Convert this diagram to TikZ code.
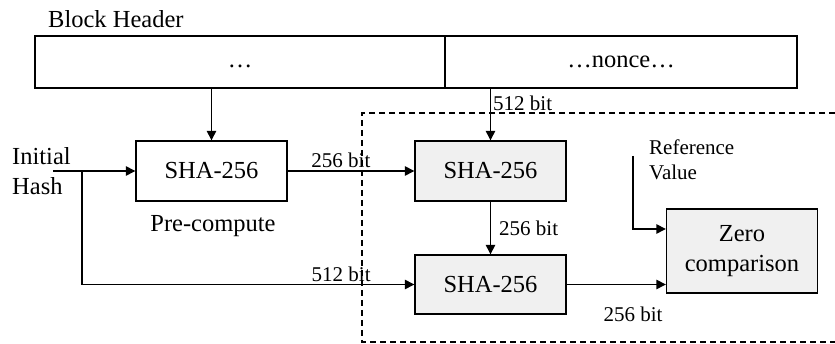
\documentclass[tikz,border=0pt]{standalone}
\usepackage{fontspec}
\setmainfont{Liberation Serif}
\usepackage{xcolor}
\usetikzlibrary{positioning, arrows.meta, calc}
\definecolor{shagray}{RGB}{240, 240, 240}
\newcommand{\bigtxt}{\fontsize{24.5}{29.5}\selectfont}
\newcommand{\smalltxt}{\fontsize{21}{25}\selectfont}
\tikzset{
  blk/.style={draw, line width=1.4pt, fill=#1, minimum width=151pt,
              minimum height=60pt, align=center, font=\bigtxt, inner sep=0pt},
  fld/.style={draw, line width=1.4pt, minimum height=52pt, font=\bigtxt,
              inner sep=0pt, text height=11pt, text depth=0pt},
  arr/.style={-{Triangle[length=9.5pt, width=9.5pt]}, line width=1.4pt},
  lbl/.style={font=\smalltxt, inner sep=1pt},
  frame/.style={line width=1.3pt, dash pattern=on 6pt off 4pt},
}

\begin{document}
\begin{tikzpicture}[x=1pt, y=-1pt]
\useasboundingbox (0,0) rectangle (835,344);

% ===================== block header =====================
\node[font=\bigtxt, anchor=base west, inner sep=0pt] (hdrtitle) at (48,28)
  {Block Header};
\node[fld, minimum width=410pt] (hdrL) at (240,62) {…};
\node[fld, minimum width=352pt] (hdrR) at (621,62) {…nonce…};

% ===================== hash blocks =====================
\node[blk=white] (pre) at (211.5,171) {SHA-256};
\node[font=\bigtxt, anchor=base, inner sep=0pt] (prelbl) at (213,232)
  {Pre-compute};
\node[blk=shagray] (sha2) at (490.5,171) {SHA-256};
\node[blk=shagray, minimum height=59pt] (sha3) at (490.5,284.5) {SHA-256};
\node[blk=shagray, minimum height=84pt, font=\bigtxt] (zero) at (742,251)
  {Zero\\comparison};

% inputs
\node[font=\bigtxt, align=left, anchor=west, inner sep=0pt] (init) at (12,171)
  {Initial\\Hash};
\coordinate (inStart) at (53,171);
\coordinate (inSplit) at (82,171);
\node[font=\smalltxt, align=left, anchor=west, inner sep=0pt] (refval)
  at (649,160) {Reference\\Value};
\coordinate (refStart) at (633,156);
\coordinate (refEnd) at ($(zero.west)+(0,-22)$);

% ===================== arrows =====================
\draw[arr] (pre.north |- hdrL.south) -- (pre.north);
\draw[arr] (sha2.north |- hdrR.south) --
  node[lbl, right=1pt, pos=0.28]{512 bit} (sha2.north);
\draw[arr] (inStart) -- (pre.west);
\draw[arr] (inSplit) |- node[lbl, above=1pt, pos=0.89]{512 bit} (sha3.west);
\draw[arr] (pre.east) -- node[lbl, above=2pt, pos=0.42]{256 bit} (sha2.west);
\draw[arr] (sha2.south) -- node[lbl, right=7pt]{256 bit} (sha3.north);
\draw[arr] (sha3.east) -- node[lbl, below=21pt, pos=0.67]{256 bit}
  (sha3.east -| zero.west);
\draw[arr] (refStart) |- (refEnd);

% ===================== dashed region (open to the right) =====================
\coordinate (dTR) at (835,113);
\coordinate (dTL) at (362,113);
\coordinate (dBL) at (362,342);
\coordinate (dBR) at (835,342);
\draw[frame] (dTR) -- (dTL) -- (dBL) -- (dBR);

\end{tikzpicture}
\end{document}
